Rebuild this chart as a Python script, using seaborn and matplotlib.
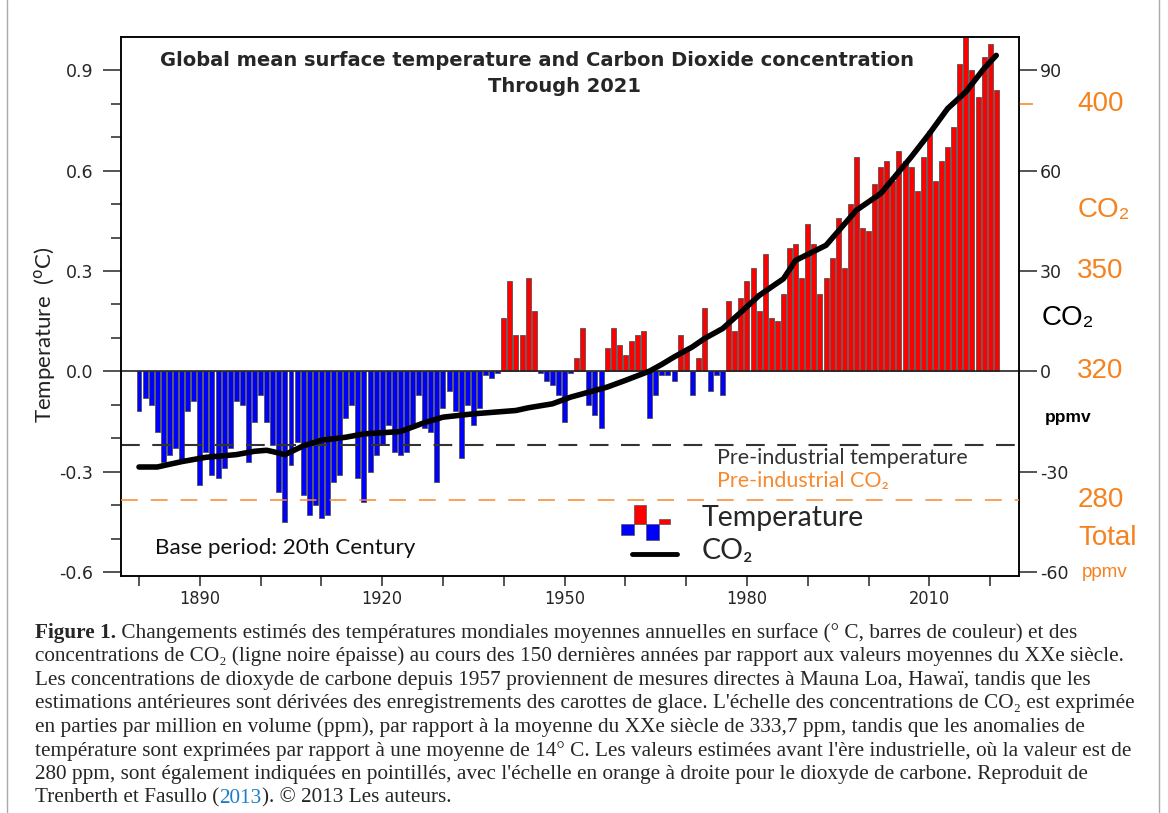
import numpy as np
import pandas as pd
import seaborn as sns
import matplotlib
matplotlib.use("Agg")
import matplotlib.pyplot as plt
from matplotlib.patches import Rectangle
from matplotlib.lines import Line2D

# annual global temperature anomaly (deg C, vs 20th century mean), 1880-2021
years = list(range(1880, 2022))
temp_anom = [
    -0.12, -0.08, -0.10, -0.18, -0.27, -0.25, -0.23, -0.27, -0.12, -0.09,   # 1880s
    -0.34, -0.24, -0.31, -0.32, -0.29, -0.23, -0.09, -0.10, -0.27, -0.15,   # 1890s
    -0.07, -0.15, -0.22, -0.36, -0.45, -0.28, -0.21, -0.37, -0.43, -0.40,   # 1900s
    -0.44, -0.43, -0.33, -0.31, -0.14, -0.10, -0.32, -0.39, -0.30, -0.25,   # 1910s
    -0.22, -0.16, -0.24, -0.25, -0.24, -0.17, -0.07, -0.17, -0.18, -0.33,   # 1920s
    -0.11, -0.06, -0.12, -0.26, -0.10, -0.16, -0.11, -0.01, -0.02, -0.005,  # 1930s
    0.16, 0.27, 0.11, 0.11, 0.28, 0.18, -0.005, -0.03, -0.04, -0.07,        # 1940s
    -0.15, -0.005, 0.04, 0.13, -0.10, -0.13, -0.17, 0.07, 0.13, 0.08,       # 1950s
    0.05, 0.09, 0.11, 0.12, -0.14, -0.07, -0.01, -0.01, -0.03, 0.11,        # 1960s
    0.06, -0.07, 0.04, 0.19, -0.06, -0.01, -0.07, 0.21, 0.12, 0.22,         # 1970s
    0.27, 0.31, 0.18, 0.35, 0.16, 0.15, 0.23, 0.37, 0.38, 0.28,             # 1980s
    0.44, 0.38, 0.23, 0.28, 0.34, 0.46, 0.31, 0.50, 0.64, 0.43,             # 1990s
    0.42, 0.56, 0.61, 0.63, 0.57, 0.66, 0.63, 0.61, 0.54, 0.64,             # 2000s
    0.72, 0.57, 0.63, 0.67, 0.73, 0.92, 1.00, 0.90, 0.82, 0.94,             # 2010s
    0.98, 0.84,
]

# CO2 concentration (ppmv)
co2_years = [1880, 1883, 1887, 1891, 1896, 1899, 1901, 1902, 1904, 1907, 1910,
             1914, 1917, 1923, 1927, 1930, 1935, 1942, 1944, 1948, 1951, 1954,
             1957, 1960, 1964, 1966, 1968, 1971, 1973, 1976, 1979, 1982, 1986,
             1988, 1993, 1998, 2002, 2007, 2010, 2013, 2016, 2019, 2021]
co2_ppm = [291.4, 291.4, 293.0, 294.3, 295.1, 296.1, 296.4, 296.0, 295.1, 297.7, 299.4,
           300.3, 301.3, 302.0, 304.7, 306.3, 307.3, 308.3, 309.1, 310.3, 312.3, 313.8,
           315.3, 317.3, 320.1, 322.1, 324.3, 327.3, 329.8, 332.8, 337.7, 342.7, 347.7,
           353.2, 357.7, 368.2, 373.2, 384.1, 391.1, 398.6, 403.6, 410.6, 414.5]

co2_zero = 320          # ppmv sitting on the 0 of the right scale
preind_temp = -0.22
preind_co2 = 281.5
orange_ppm_labels = ["400", "350", "320", "280"]
orange_ppm_values = [400, 350, 320, 281.5]

W, H = 1168, 813
def fx(x):
    return x / W
def fy(y):
    return 1 - y / H

ORANGE = "#f5821f"
sns.set_theme(style="white")
plt.rcParams["font.family"] = ["DejaVu Sans"]
plt.rcParams["axes.unicode_minus"] = False
sans2 = ["Lato", "DejaVu Sans"]
arial = ["Liberation Sans", "DejaVu Sans"]
serif = ["Liberation Serif", "DejaVu Serif"]

fig = plt.figure(figsize=(11.68, 8.13), dpi=100)
ax = fig.add_axes([fx(121), fy(576), fx(1019) - fx(121), fy(37) - fy(576)])

df = pd.DataFrame({"year": years, "temp": temp_anom})
df["sign"] = np.where(df["temp"] >= 0, "warm", "cool")
sns.barplot(data=df, x="year", y="temp", hue="sign",
            palette={"warm": "#ff0000", "cool": "#0000ff"}, saturation=1,
            native_scale=True, dodge=False, width=0.82,
            edgecolor="#555555", linewidth=0.6, legend=False, ax=ax, zorder=2)

ax.axhline(0, color="#222222", lw=1.2, zorder=3)
ax.axhline(preind_temp, color="#333333", lw=1.5, dashes=(9, 6), zorder=4)

ax.set_xlim(1877.04, 2024.74)
ax.set_ylim(-0.612, 1.0)
ax.set_xlabel("")
ax.set_ylabel("")

xt = list(range(1880, 2021, 10))
ax.set_xticks(xt)
ax.set_xticklabels([str(y) if y in (1890, 1920, 1950, 1980, 2010) else "" for y in xt])
ax.tick_params(axis="x", direction="out", length=7, width=1.1, pad=3, labelsize=13, bottom=True)
for lbl in ax.get_xticklabels():
    lbl.set_family(["Liberation Sans Narrow", "DejaVu Sans"])
    lbl.set_fontstretch("condensed")

yt = [-0.6, -0.3, 0.0, 0.3, 0.6, 0.9]
ax.set_yticks(yt)
ax.set_yticklabels([f"{v:.1f}" for v in yt])
ax.set_yticks(np.arange(-0.6, 1.0, 0.1), minor=True)
ax.tick_params(axis="y", which="major", direction="out", length=13, width=1.1, pad=7,
               labelsize=12.5, left=True)
ax.tick_params(axis="y", which="minor", direction="out", length=7, width=1.1, left=True)
for s in ax.spines.values():
    s.set_linewidth(1.1)
    s.set_color("black")

# CO2 on the right-hand scale
ax2 = ax.twinx()
co2 = pd.DataFrame({"year": co2_years, "anom": np.array(co2_ppm) - co2_zero})
sns.lineplot(data=co2, x="year", y="anom", color="black", lw=4, ax=ax2, zorder=6)
ax2.axhline(preind_co2 - co2_zero, color="#f7892e", lw=1.1, dashes=(11, 8.5), zorder=5)
ax2.set_ylim(-61.2, 100)
ax2.set_xlim(1877.04, 2024.74)
ax2.set_ylabel("")
rt = [-60, -30, 0, 30, 60, 90]
ax2.set_yticks(rt)
ax2.set_yticklabels([str(v) for v in rt])
ax2.set_yticks([400 - co2_zero], minor=True)
ax2.tick_params(axis="y", which="major", direction="out", length=13, width=1.1, pad=2,
                labelsize=12.5, right=True)
ax2.tick_params(axis="y", which="minor", direction="out", length=10, width=1.1,
                color=ORANGE, right=True)
for s in ax2.spines.values():
    s.set_linewidth(1.1)
    s.set_color("black")
ax2.grid(False)
ax.grid(False)

# orange ppm scale
for lab, val in zip(orange_ppm_labels, orange_ppm_values):
    ax2.text(1.065, val - co2_zero, lab, transform=ax2.get_yaxis_transform(),
             color=ORANGE, fontsize=20, family=arial, ha="left", va="center")
fig.text(fx(1078), fy(210), "CO₂", color=ORANGE, fontsize=20, family=arial, va="center")
fig.text(fx(1078), fy(538), "Total", color=ORANGE, fontsize=20, family=arial, va="center")
fig.text(fx(1082), fy(572), "ppmv", color=ORANGE, fontsize=13.5, family=arial, va="center")
fig.text(fx(1042), fy(318), "CO₂", color="black", fontsize=20, family=arial, va="center")
fig.text(fx(1045), fy(417), "ppmv", color="black", fontsize=12.5, family=arial,
         fontweight="bold", va="center")

# title and annotations
fig.text(fx(537), fy(60), "Global mean surface temperature and Carbon Dioxide concentration",
         ha="center", va="center", fontsize=14, fontweight="bold")
fig.text(fx(564), fy(87), "Through 2021", ha="center", va="center", fontsize=14,
         fontweight="bold")
fig.text(fx(45), fy(335), "Temperature  ($^{\\mathrm{o}}$C)", rotation=90, ha="center",
         va="center", fontsize=16, family=sans2, color="#222222")
fig.text(fx(155), fy(548), "Base period: 20th Century", fontsize=16.2, family=sans2,
         va="center", color="#111111")
fig.text(fx(717), fy(458), "Pre-industrial temperature", fontsize=15.5, family=sans2,
         va="center", color="#333333")
fig.text(fx(717), fy(481), "Pre-industrial CO₂", fontsize=15.5, family=sans2,
         va="center", color="#f7892e")

# legend
for x0, y0, w, h, c in [(621, 524, 12.5, 11, "#0000ff"), (633.5, 505, 12.5, 19, "#ff0000"),
                        (646, 524, 12.5, 16, "#0000ff"), (658.5, 519, 11.5, 5, "#ff0000")]:
    fig.add_artist(Rectangle((fx(x0), fy(y0 + h)), w / W, h / H, transform=fig.transFigure,
                             facecolor=c, edgecolor="#555555", lw=0.5))
fig.add_artist(Line2D([fx(632), fx(677)], [fy(554), fy(554)], transform=fig.transFigure,
                      color="black", lw=3.5))
fig.text(fx(702), fy(518), "Temperature", fontsize=20.5, family=sans2, va="center")
fig.text(fx(702), fy(551), "CO₂", fontsize=20.5, family=sans2, va="center")

# figure frame
fig.add_artist(Line2D([fx(7), fx(7)], [0, 1], transform=fig.transFigure, color="#aaaaaa", lw=1))
fig.add_artist(Line2D([fx(1159), fx(1159)], [0, 1], transform=fig.transFigure,
                      color="#aaaaaa", lw=1))

# caption
renderer = fig.canvas.get_renderer()
def text_run(x, y, parts, size=15.3):
    x = fx(x)
    for s, kw in parts:
        t = fig.text(x, fy(y), s, fontsize=size, va="center", ha="left", family=serif, **kw)
        bb = t.get_window_extent(renderer)
        x = bb.x1 / fig.bbox.width

caption = [
    [("Figure 1.", {"fontweight": "bold"}),
     (" Changements estimés des températures mondiales moyennes annuelles en surface (° C, barres de couleur) et des", {})],
    [("concentrations de CO₂ (ligne noire épaisse) au cours des 150 dernières années par rapport aux valeurs moyennes du XXe siècle.", {})],
    [("Les concentrations de dioxyde de carbone depuis 1957 proviennent de mesures directes à Mauna Loa, Hawaï, tandis que les", {})],
    [("estimations antérieures sont dérivées des enregistrements des carottes de glace. L'échelle des concentrations de CO₂ est exprimée", {})],
    [("en parties par million en volume (ppm), par rapport à la moyenne du XXe siècle de 333,7 ppm, tandis que les anomalies de", {})],
    [("température sont exprimées par rapport à une moyenne de 14° C. Les valeurs estimées avant l'ère industrielle, où la valeur est de", {})],
    [("280 ppm, sont également indiquées en pointillés, avec l'échelle en orange à droite pour le dioxyde de carbone. Reproduit de", {})],
    [("Trenberth et Fasullo (", {}), ("2013", {"color": "#1a7dc8"}), ("). © 2013 Les auteurs.", {})],
]
for i, parts in enumerate(caption):
    text_run(35, 633 + i * 23.6, parts)

fig.savefig("out.png", dpi=100)
